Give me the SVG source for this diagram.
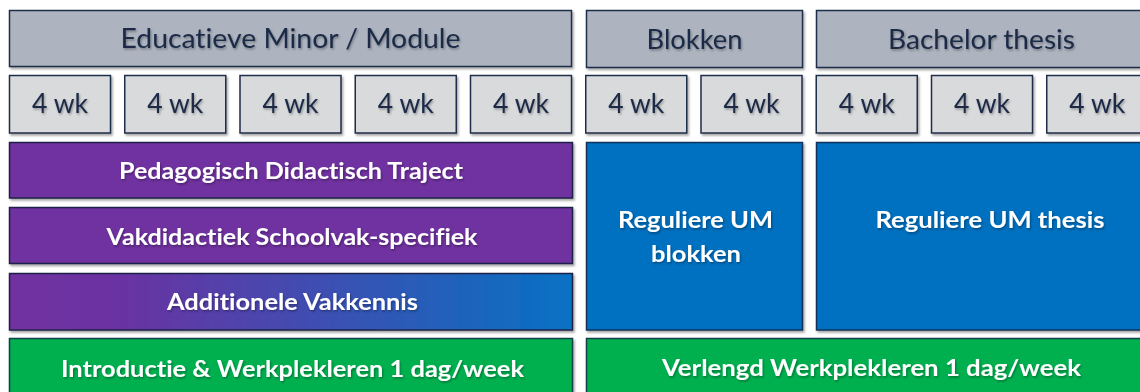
<svg xmlns="http://www.w3.org/2000/svg" width="1140" height="392" viewBox="0 0 1140 392">
  <defs>
    <filter id="boxShadow" x="-5%" y="-10%" width="110%" height="130%">
      <feDropShadow dx="1.5" dy="2" stdDeviation="1.2" flood-color="#000" flood-opacity="0.35"/>
    </filter>
    <filter id="txtShadow" x="-5%" y="-20%" width="110%" height="150%">
      <feDropShadow dx="1" dy="1.5" stdDeviation="1" flood-color="#000" flood-opacity="0.35"/>
    </filter>
    <linearGradient id="gradPB" x1="0" y1="0" x2="1" y2="0">
      <stop offset="0" stop-color="#7030a0"/>
      <stop offset="0.18" stop-color="#6c31a2"/>
      <stop offset="1" stop-color="#0672c4"/>
    </linearGradient>
    <style>
      text { font-variant-ligatures: none; font-feature-settings: "liga" 0, "clig" 0; }
      .hdr { fill: #adb4bf; stroke: #1f2d48; stroke-width: 1.5; filter: url(#boxShadow); }
      .wk { fill: #d9dadc; stroke: #1f2d48; stroke-width: 1.5; filter: url(#boxShadow); }
      .purple { fill: #7030a0; stroke: #1c2346; stroke-width: 1.5; filter: url(#boxShadow); }
      .blue { fill: #0070c0; stroke: #12305a; stroke-width: 1.5; filter: url(#boxShadow); }
      .green { fill: #00b050; stroke: #14404a; stroke-width: 1.5; filter: url(#boxShadow); }
      .grad { fill: url(#gradPB); stroke: #1c2346; stroke-width: 1.5; filter: url(#boxShadow); }
      .tdark { font-family: Lato, "Liberation Sans", sans-serif; fill: #1b2a47; text-anchor: middle; filter: url(#txtShadow); }
      .thdr { font-size: 27px; }
      .twk { font-size: 26px; }
      .twhite { font-family: Lato, "Liberation Sans", sans-serif; font-weight: bold; font-size: 23px; fill: #ffffff; text-anchor: middle; filter: url(#txtShadow); }
    </style>
  </defs>

  <rect width="1140" height="392" fill="#ffffff"/>

  <g id="hdr-educatieve">
    <rect class="hdr" x="9.5" y="10.5" width="562" height="56"/>
    <text class="tdark thdr" x="290.5" y="48" textLength="340" lengthAdjust="spacingAndGlyphs">Educatieve Minor / Module</text>
  </g>
  <g id="hdr-blokken">
    <rect class="hdr" x="586.5" y="10.5" width="216" height="57"/>
    <text class="tdark thdr" x="694.5" y="49" textLength="96" lengthAdjust="spacingAndGlyphs">Blokken</text>
  </g>
  <g id="hdr-bachelor">
    <rect class="hdr" x="816.5" y="10.5" width="340" height="57"/>
    <text class="tdark thdr" x="981.5" y="49" textLength="187" lengthAdjust="spacingAndGlyphs">Bachelor thesis</text>
  </g>

  <g id="wk1"><rect class="wk" x="9.5" y="75.5" width="101" height="57.5"/><text class="tdark twk" x="60" y="113" textLength="56" lengthAdjust="spacingAndGlyphs">4 wk</text></g>
  <g id="wk2"><rect class="wk" x="124.75" y="75.5" width="101" height="57.5"/><text class="tdark twk" x="175.25" y="113" textLength="56" lengthAdjust="spacingAndGlyphs">4 wk</text></g>
  <g id="wk3"><rect class="wk" x="240" y="75.5" width="101" height="57.5"/><text class="tdark twk" x="290.5" y="113" textLength="56" lengthAdjust="spacingAndGlyphs">4 wk</text></g>
  <g id="wk4"><rect class="wk" x="355.25" y="75.5" width="101" height="57.5"/><text class="tdark twk" x="405.75" y="113" textLength="56" lengthAdjust="spacingAndGlyphs">4 wk</text></g>
  <g id="wk5"><rect class="wk" x="470.5" y="75.5" width="101" height="57.5"/><text class="tdark twk" x="521" y="113" textLength="56" lengthAdjust="spacingAndGlyphs">4 wk</text></g>
  <g id="wk6"><rect class="wk" x="585.75" y="75.5" width="101" height="57.5"/><text class="tdark twk" x="636.25" y="113" textLength="56" lengthAdjust="spacingAndGlyphs">4 wk</text></g>
  <g id="wk7"><rect class="wk" x="701" y="75.5" width="101" height="57.5"/><text class="tdark twk" x="751.5" y="113" textLength="56" lengthAdjust="spacingAndGlyphs">4 wk</text></g>
  <g id="wk8"><rect class="wk" x="816.25" y="75.5" width="101" height="57.5"/><text class="tdark twk" x="866.75" y="113" textLength="56" lengthAdjust="spacingAndGlyphs">4 wk</text></g>
  <g id="wk9"><rect class="wk" x="931.5" y="75.5" width="101" height="57.5"/><text class="tdark twk" x="982" y="113" textLength="56" lengthAdjust="spacingAndGlyphs">4 wk</text></g>
  <g id="wk10"><rect class="wk" x="1046.75" y="75.5" width="101" height="57.5"/><text class="tdark twk" x="1097.25" y="113" textLength="56" lengthAdjust="spacingAndGlyphs">4 wk</text></g>

  <g id="pedagogisch">
    <rect class="purple" x="9.5" y="142.5" width="563" height="55.5"/>
    <text class="twhite" x="291" y="179" textLength="344" lengthAdjust="spacingAndGlyphs">Pedagogisch Didactisch Traject</text>
  </g>
  <g id="vakdidactiek">
    <rect class="purple" x="9.5" y="207.5" width="563" height="56"/>
    <text class="twhite" x="292" y="244.5" textLength="371" lengthAdjust="spacingAndGlyphs">Vakdidactiek Schoolvak-specifiek</text>
  </g>
  <g id="additionele">
    <rect class="grad" x="9.5" y="273.5" width="563" height="56.5"/>
    <text class="twhite" x="292.5" y="310" textLength="251" lengthAdjust="spacingAndGlyphs">Additionele Vakkennis</text>
  </g>
  <g id="introductie">
    <rect class="green" x="9.5" y="338.5" width="563" height="60"/>
    <text class="twhite" x="292.5" y="376.5" textLength="463" lengthAdjust="spacingAndGlyphs">Introductie &amp; Werkplekleren 1 dag/week</text>
  </g>

  <g id="reguliere-blokken">
    <rect class="blue" x="586.5" y="142.5" width="216" height="187.5"/>
    <text class="twhite" x="695.5" y="228" textLength="155" lengthAdjust="spacingAndGlyphs">Reguliere UM</text>
    <text class="twhite" x="696" y="262" textLength="90" lengthAdjust="spacingAndGlyphs">blokken</text>
  </g>
  <g id="reguliere-thesis">
    <rect class="blue" x="816.5" y="142.5" width="340" height="187.5"/>
    <text class="twhite" x="990" y="228" textLength="229" lengthAdjust="spacingAndGlyphs">Reguliere UM thesis</text>
  </g>
  <g id="verlengd">
    <rect class="green" x="586.5" y="338.5" width="570" height="60"/>
    <text class="twhite" x="871.5" y="376" textLength="419" lengthAdjust="spacingAndGlyphs">Verlengd Werkplekleren 1 dag/week</text>
  </g>

  <g id="connectors"/>
</svg>
